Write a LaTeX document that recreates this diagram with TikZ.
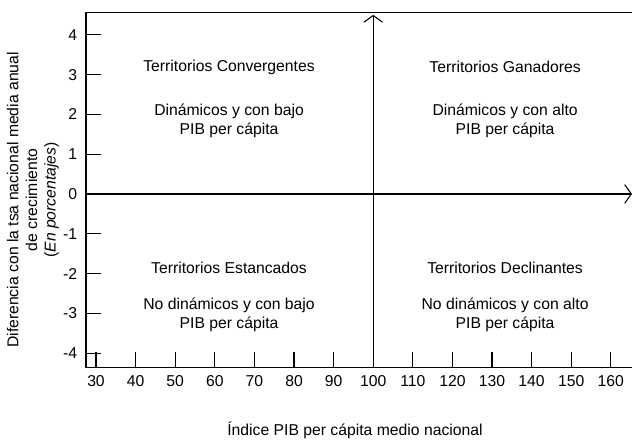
\documentclass[tikz,border=0pt]{standalone}
\usepackage{fontspec}
\setmainfont{Liberation Sans}
\usetikzlibrary{arrows.meta}
\begin{document}
\begin{tikzpicture}[x=2.97pt, y=29.85pt, font=\fontsize{11.8}{14}\selectfont, line width=0.8pt, >={Straight Barb[length=5pt,width=14pt]}]
\useasboundingbox (5.758,4.874) rectangle (165.35,-6.256);
% marco
\coordinate (tl) at (27.47,4.55);
\coordinate (bl) at (27.47,-4.35);
\coordinate (tr) at (165.35,4.55);
\coordinate (br) at (165.35,-4.35);
\draw (tr) -- (tl) -- (bl) -- (br);
% ejes
\coordinate (ya) at (100,-4.35);
\coordinate (yb) at (100,4.5);
\coordinate (xa) at (27.47,0);
\coordinate (xb) at (165.35,0);
\draw[->] (ya) -- (yb);
\draw[->] (xa) -- (xb);
\foreach \y in {-4,...,4}{
  \draw (27.47,\y) -- (31.26,\y);
  \node[left] (ly\y) at (26.5,\y) {\y};
}
\foreach \x in {30,40,...,160}{
  \draw (\x,-4.35) -- (\x,-3.97);
  \node (lx\x) at (\x,-4.7) {\x};
}
% cuadrantes
\node (conv) at (63.6,3.19) {Territorios Convergentes};
\node[align=center] (convd) at (63.6,1.83) {Dinámicos y con bajo\\PIB per cápita};
\node (gan) at (133.3,3.19) {Territorios Ganadores};
\node[align=center] (gand) at (133.3,1.83) {Dinámicos y con alto\\PIB per cápita};
\node (est) at (63.6,-1.86) {Territorios Estancados};
\node[align=center] (estd) at (63.6,-3.04) {No dinámicos y con bajo\\PIB per cápita};
\node (dec) at (133.3,-1.86) {Territorios Declinantes};
\node[align=center] (decd) at (133.3,-3.04) {No dinámicos y con alto\\PIB per cápita};
% titulos
\node[rotate=90, align=center] (ytit) at (14.09,-0.15) {Diferencia con la tsa nacional media anual\\de crecimiento\\(\textit{En porcentajes})};
\node (xtit) at (95.4,-5.93) {Índice PIB per cápita medio nacional};
\end{tikzpicture}
\end{document}
